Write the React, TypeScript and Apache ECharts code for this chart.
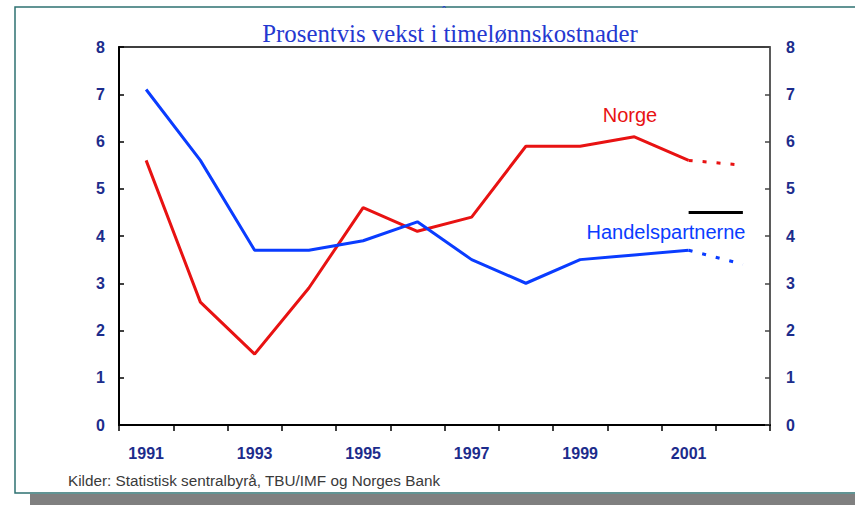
import React, { useEffect, useRef } from "react";
import * as echarts from "echarts";

const years = ["1991","1992","1993","1994","1995","1996","1997","1998","1999","2000","2001","2002"];
const norge = [5.6, 2.6, 1.5, 2.9, 4.6, 4.1, 4.4, 5.9, 5.9, 6.1, 5.6, null];
const norgeProjection = [null, null, null, null, null, null, null, null, null, null, 5.6, 5.5];
const handel = [7.1, 5.6, 3.7, 3.7, 3.9, 4.3, 3.5, 3.0, 3.5, 3.6, 3.7, null];
const handelProjection = [null, null, null, null, null, null, null, null, null, null, 3.7, 3.4];
const blackSegment = [null, null, null, null, null, null, null, null, null, null, 4.5, 4.5];
const yTicks = { min: 0, max: 8, interval: 1 };

const title = "Prosentvis vekst i timelønnskostnader";
const source = "Kilder: Statistisk sentralbyrå, TBU/IMF og Norges Bank";

const RED = "#e81212";
const BLUE = "#0a3cff";
const NAVY = "#1c2c8c";

export default function App() {
  const ref = useRef<HTMLDivElement>(null);
  useEffect(() => {
    if (!ref.current) return;
    const chart = echarts.init(ref.current, null, { renderer: "svg" });
    const labelStyle = { color: NAVY, fontFamily: "Liberation Sans, Arial, sans-serif", fontWeight: "bold", fontSize: 16 };
    const line = (name: string, data: any[], color: string, type: any) => ({
      name,
      type: "line",
      data,
      symbol: "none",
      connectNulls: false,
      lineStyle: { color, width: 3, type },
      z: 3,
    });
    chart.setOption({
      animation: false,
      backgroundColor: "#ffffff",
      grid: { left: 119, right: 85, top: 47, bottom: 80, show: true, borderColor: "#000", borderWidth: 1.5, backgroundColor: "transparent" },
      xAxis: {
        type: "category",
        data: years,
        boundaryGap: true,
        axisLine: { lineStyle: { color: "#000", width: 2 } },
        axisTick: { show: true, interval: 0, length: 6, lineStyle: { color: "#000", width: 1.5 } },
        axisLabel: { ...labelStyle, interval: 1, margin: 20 },
      },
      yAxis: [
        {
          type: "value",
          ...yTicks,
          position: "left",
          splitLine: { show: false },
          axisLine: { show: true, lineStyle: { color: "#000", width: 2 } },
          axisTick: { show: true, inside: true, length: 5, lineStyle: { color: "#000", width: 1.5 } },
          axisLabel: { ...labelStyle, margin: 14 },
        },
        {
          type: "value",
          ...yTicks,
          position: "right",
          splitLine: { show: false },
          axisLine: { show: true, lineStyle: { color: "#666", width: 1.5 } },
          axisTick: { show: true, inside: true, length: 5, lineStyle: { color: "#444", width: 1.5 } },
          axisLabel: { ...labelStyle, margin: 16 },
        },
      ],
      series: [
        line("Norge", norge, RED, "solid"),
        line("Norge anslag", norgeProjection, RED, [4, 10]),
        line("Handelspartnerne", handel, BLUE, "solid"),
        line("Handelspartnerne anslag", handelProjection, BLUE, [4, 10]),
        line("Strek", blackSegment, "#000", "solid"),
      ],
      graphic: [
        { type: "rect", shape: { x: 30, y: 494, width: 825, height: 11 }, style: { fill: "#808080" }, z: 0 },
        { type: "rect", shape: { x: 15, y: 7, width: 860, height: 486 }, style: { fill: "none", stroke: "#2e7272", lineWidth: 1.5 }, z: 0 },
        { type: "text", x: 450, y: 33, style: { text: title, fill: "#2438d0", font: "24.8px 'Liberation Serif', 'Times New Roman', serif", align: "center", verticalAlign: "middle" } },
        { type: "text", x: 444, y: 11, style: { text: "ˆ", fill: "#2438d0", font: "12px 'Liberation Serif', serif", align: "center", verticalAlign: "middle" } },
        { type: "text", x: 630, y: 115, style: { text: "Norge", fill: RED, font: "20px 'Liberation Sans', Arial, sans-serif", align: "center", verticalAlign: "middle" } },
        { type: "text", x: 666, y: 232, style: { text: "Handelspartnerne", fill: BLUE, font: "20px 'Liberation Sans', Arial, sans-serif", align: "center", verticalAlign: "middle" } },
        { type: "text", x: 68, y: 480, style: { text: source, fill: "#3a3a3a", font: "15.3px 'Liberation Sans', Arial, sans-serif", align: "left", verticalAlign: "middle" } },
      ],
    });
    return () => chart.dispose();
  }, []);
  return <div ref={ref} style={{ position: "fixed", left: 0, top: 0, width: 855, height: 505 }} />;
}
